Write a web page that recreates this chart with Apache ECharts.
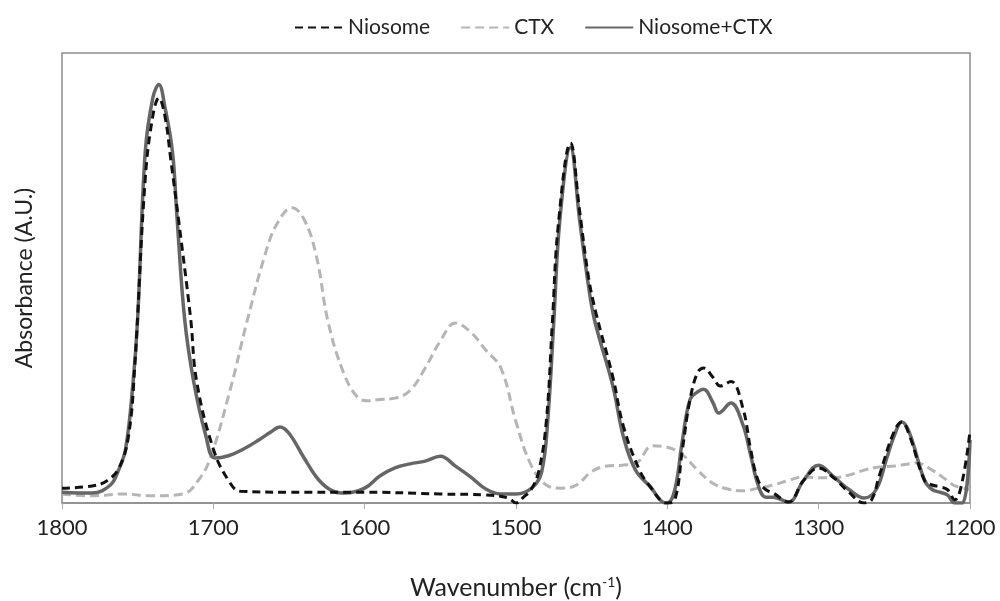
<!DOCTYPE html>
<html>
<head>
<meta charset="utf-8">
<script src="https://cdn.jsdelivr.net/npm/echarts@6/dist/echarts.min.js"></script>
<style>html,body{margin:0;padding:0;background:#fff}#c{width:1000px;height:601px}</style>
</head>
<body>
<div id="c"></div>
<script>
const xTicks = [1800, 1700, 1600, 1500, 1400, 1300, 1200];
const seriesNames = ['Niosome', 'CTX', 'Niosome+CTX'];

const niosomeWn = [1800,1780,1770,1762,1756,1752,1745,1740,1736,1732,1728,1723,1715,1711,1700,1690,1682,1650,1600,1550,1520,1505,1500,1495,1490,1485,1480,1476,1472,1464,1458,1452,1447,1436,1429,1418,1411,1403,1400,1395,1390,1385,1380,1376,1370,1365,1358,1350,1345,1340,1335,1330,1320,1310,1300,1290,1280,1270,1265,1260,1250,1245,1240,1230,1225,1220,1215,1210,1205,1200];
const niosomeAbs = [0.033,0.038,0.05,0.08,0.15,0.30,0.72,0.86,0.90,0.86,0.76,0.63,0.41,0.27,0.12,0.05,0.026,0.024,0.024,0.02,0.018,0.011,0.0,0.013,0.03,0.07,0.18,0.40,0.62,0.80,0.65,0.50,0.42,0.28,0.17,0.07,0.035,0.002,0.0,0.007,0.12,0.23,0.29,0.30,0.28,0.26,0.27,0.21,0.12,0.05,0.03,0.022,0.002,0.05,0.078,0.056,0.024,0.0,0.007,0.06,0.16,0.18,0.15,0.05,0.04,0.036,0.03,0.007,0.05,0.16];

const ctxWn = [1800,1780,1760,1740,1720,1710,1702,1689,1678,1666,1658,1648,1640,1632,1624,1614,1605,1598,1590,1580,1570,1560,1550,1540,1530,1520,1510,1500,1490,1480,1470,1460,1450,1440,1430,1420,1410,1400,1390,1380,1370,1360,1350,1340,1330,1320,1310,1300,1290,1280,1270,1260,1250,1240,1235,1225,1215,1210,1200];
const ctxAbs = [0.02,0.016,0.02,0.016,0.02,0.05,0.10,0.25,0.40,0.55,0.62,0.656,0.63,0.55,0.40,0.29,0.236,0.227,0.23,0.233,0.25,0.30,0.36,0.40,0.38,0.34,0.30,0.18,0.084,0.04,0.033,0.04,0.07,0.082,0.084,0.09,0.127,0.124,0.107,0.073,0.044,0.031,0.027,0.033,0.04,0.05,0.058,0.056,0.056,0.062,0.073,0.08,0.082,0.087,0.089,0.073,0.05,0.038,0.03];

const comboWn = [1800,1780,1768,1763,1758,1753,1750,1745,1740,1736,1732,1727,1724,1719,1713,1705,1699,1690,1680,1670,1662,1656,1650,1640,1630,1620,1613,1600,1590,1580,1570,1560,1550,1540,1530,1520,1510,1500,1489,1483,1479,1475,1471,1464,1458,1452,1448,1436,1429,1421,1411,1403,1400,1395,1390,1385,1380,1376,1370,1366,1358,1350,1345,1340,1335,1330,1320,1310,1300,1290,1280,1270,1262,1255,1250,1245,1240,1230,1225,1220,1215,1210,1205,1200];
const comboAbs = [0.024,0.022,0.04,0.07,0.12,0.27,0.41,0.78,0.90,0.93,0.88,0.78,0.635,0.41,0.27,0.15,0.10,0.105,0.12,0.14,0.158,0.169,0.155,0.10,0.05,0.025,0.022,0.033,0.06,0.078,0.087,0.093,0.104,0.082,0.058,0.031,0.02,0.02,0.035,0.07,0.185,0.405,0.63,0.79,0.63,0.48,0.405,0.26,0.147,0.073,0.035,0.002,0.0,0.03,0.14,0.23,0.247,0.253,0.224,0.20,0.222,0.173,0.107,0.04,0.013,0.013,0.002,0.05,0.084,0.058,0.03,0.011,0.03,0.10,0.15,0.18,0.156,0.05,0.03,0.024,0.018,0.0,0.0,0.14];

const zip = (a, b) => a.map((v, i) => [v, b[i]]);
const FONT = "Lato, 'Open Sans', sans-serif";

const chart = echarts.init(document.getElementById('c'), null, {renderer: 'canvas'});
chart.setOption({
  animation: false,
  backgroundColor: '#fff',
  legend: {
    top: 12,
    left: 289,
    itemWidth: 48,
    itemHeight: 14,
    itemGap: 30,
    data: seriesNames,
    itemStyle: {opacity: 0},
    textStyle: {fontFamily: FONT, fontSize: 21, color: '#222'}
  },
  grid: {
    left: 62, right: 30, top: 53, bottom: 98,
    containLabel: false, outerBoundsMode: 'none',
    show: true, borderColor: '#8c8c8c', borderWidth: 1.5
  },
  xAxis: {
    type: 'value', inverse: true, min: 1200, max: 1800, interval: 100,
    name: 'Wavenumber (cm{sup|-1})',
    nameLocation: 'middle', nameGap: 72,
    nameTextStyle: {
      fontFamily: FONT, fontSize: 25, color: '#222',
      rich: {sup: {fontFamily: FONT, fontSize: 14, verticalAlign: 'top', padding: [0,0,12,0], color: '#222'}}
    },
    axisLine: {onZero: false, lineStyle: {color: '#8c8c8c', width: 1.5}},
    axisTick: {show: true, inside: false, length: 6, lineStyle: {color: '#aaa'}},
    splitLine: {show: false},
    axisLabel: {fontFamily: FONT, fontSize: 22, color: '#222', margin: 14,
      formatter: v => xTicks.includes(v) ? String(v) : ''}
  },
  yAxis: {
    type: 'value', min: 0, max: 1,
    name: 'Absorbance (A.U.)', nameLocation: 'middle', nameGap: 26,
    nameTextStyle: {fontFamily: FONT, fontSize: 23, color: '#222'},
    axisLine: {show: false}, axisTick: {show: false},
    axisLabel: {show: false}, splitLine: {show: false}
  },
  series: [
    {name: 'CTX', type: 'line', data: zip(ctxWn, ctxAbs), smooth: 0.4, symbol: 'none', z: 2,
     itemStyle: {color: '#b5b5b5'},
     lineStyle: {color: '#b5b5b5', width: 3, type: [9, 5]}},
    {name: 'Niosome+CTX', type: 'line', data: zip(comboWn, comboAbs), smooth: 0.4, symbol: 'none', z: 3,
     itemStyle: {color: '#666'},
     lineStyle: {color: '#666', width: 3.5}},
    {name: 'Niosome', type: 'line', data: zip(niosomeWn, niosomeAbs), smooth: 0.4, symbol: 'none', z: 4,
     itemStyle: {color: '#111'},
     lineStyle: {color: '#111', width: 3, type: [8, 5]}}
  ]
});
</script>
</body>
</html>
